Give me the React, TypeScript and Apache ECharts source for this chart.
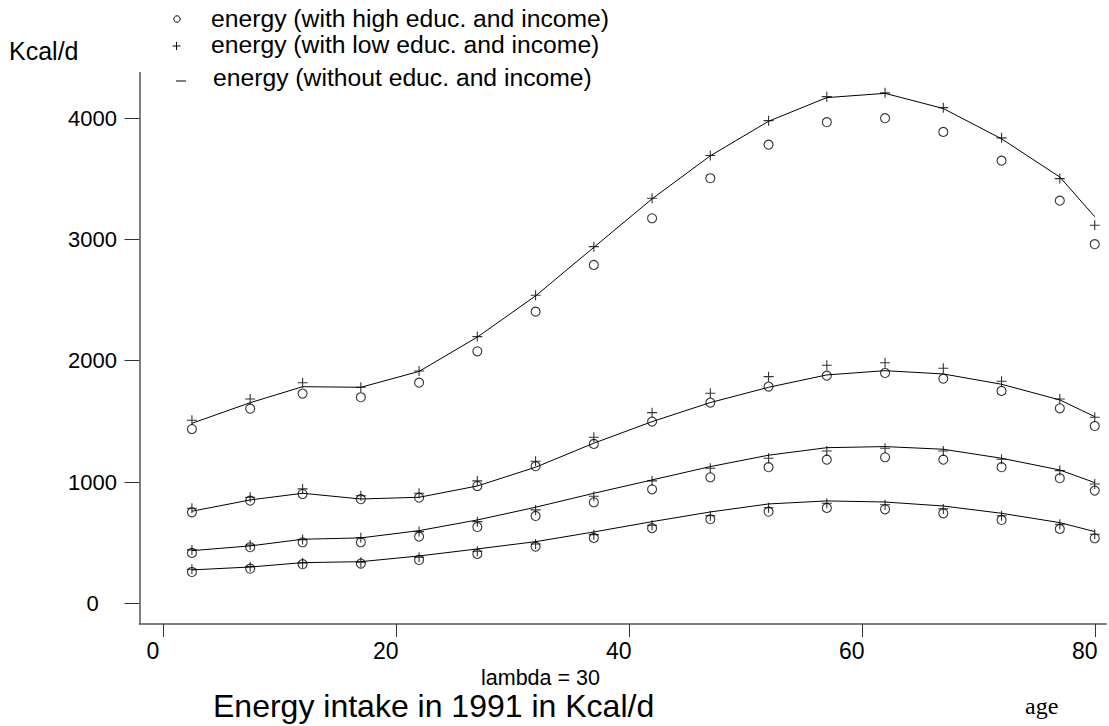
import React, { useEffect, useRef } from "react";
import * as echarts from "echarts";

// ages of the age groups (x)
const ages = [2.5, 7.5, 12, 17, 22, 27, 32, 37, 42, 47, 52, 57, 62, 67, 72, 77, 80];

// group 1 (top curves)
const g1High = [1437, 1605, 1729, 1699, 1819, 2078, 2405, 2790, 3175, 3505, 3782, 3967, 4000, 3887, 3650, 3320, 2961];
const g1Low = [1509, 1685, 1819, 1781, 1915, 2199, 2540, 2941, 3340, 3692, 3980, 4178, 4209, 4087, 3838, 3502, 3117];
const g1Without = [1484, 1654, 1786, 1781, 1912, 2195, 2535, 2935, 3335, 3690, 3975, 4170, 4205, 4080, 3830, 3515, 3188];

// group 2
const g2High = [750, 846, 901, 858, 871, 967, 1130, 1314, 1498, 1655, 1787, 1877, 1899, 1852, 1751, 1608, 1462];
const g2Low = [783, 874, 943, 887, 907, 1009, 1171, 1369, 1572, 1732, 1869, 1963, 1984, 1938, 1831, 1685, 1534];
const g2Without = [759, 852, 907, 860, 874, 967, 1122, 1320, 1498, 1655, 1781, 1883, 1918, 1891, 1806, 1677, 1539];

// group 3
const g3High = [415, 462, 503, 503, 549, 629, 720, 833, 940, 1039, 1122, 1184, 1204, 1184, 1122, 1031, 929];
const g3Low = [440, 481, 525, 541, 591, 673, 770, 883, 1009, 1113, 1196, 1256, 1278, 1256, 1188, 1094, 984];
const g3Without = [434, 473, 528, 539, 599, 687, 792, 907, 1017, 1127, 1221, 1283, 1292, 1270, 1196, 1099, 995];

// group 4 (bottom curves)
const g4High = [258, 285, 322, 327, 357, 407, 467, 539, 619, 693, 755, 786, 775, 742, 687, 613, 536];
const g4Low = [280, 302, 332, 338, 379, 429, 489, 566, 643, 722, 788, 825, 813, 778, 722, 652, 569];
const g4Without = [275, 299, 335, 343, 390, 448, 508, 588, 673, 753, 819, 844, 835, 802, 742, 665, 591];

const xTicks = [0, 20, 40, 60, 80];
const yTicks = [0, 1000, 2000, 3000, 4000];

const legendTexts = [
  "energy (with high educ. and income)",
  "energy (with low educ. and income)",
  "energy (without educ. and income)",
];
const yUnit = "Kcal/d";
const noteText = "lambda = 30";
const titleText = "Energy intake in 1991 in Kcal/d";
const xName = "age";

const FONT = "Liberation Sans, Arial, sans-serif";
const PLUS = "path://M0,5L10,5M5,0L5,10";

function pairs(vals: number[]) {
  return ages.map((a, i) => [a, vals[i]]);
}

export default function App() {
  const ref = useRef<HTMLDivElement>(null);
  useEffect(() => {
    if (!ref.current) return;
    const chart = echarts.init(ref.current, undefined, { renderer: "svg" });
    const groups = [
      [g1High, g1Low, g1Without],
      [g2High, g2Low, g2Without],
      [g3High, g3Low, g3Without],
      [g4High, g4Low, g4Without],
    ];
    const series: any[] = [];
    groups.forEach(([hi, lo, wo], gi) => {
      series.push({
        name: legendTexts[2] + gi,
        type: "line",
        data: pairs(wo),
        symbol: "none",
        lineStyle: { color: "#000", width: 1 },
        z: 2,
      });
      series.push({
        name: legendTexts[1] + gi,
        type: "scatter",
        data: pairs(lo),
        symbol: PLUS,
        symbolSize: 10,
        itemStyle: { color: "transparent", borderColor: "#000", borderWidth: 1.1 },
        z: 3,
      });
      series.push({
        name: legendTexts[0] + gi,
        type: "scatter",
        data: pairs(hi),
        symbol: "circle",
        symbolSize: 9,
        itemStyle: { color: "transparent", borderColor: "#000", borderWidth: 1.1 },
        z: 3,
      });
    });

    const option: any = {
      animation: false,
      backgroundColor: "#fff",
      grid: { left: 139.5, right: 2.6, top: 72.5, bottom: 102, containLabel: false },
      xAxis: {
        type: "value",
        min: -2,
        max: 81,
        splitLine: { show: false },
        axisLine: { show: true, onZero: false, lineStyle: { color: "#555", width: 1.5 } },
        axisTick: { show: true, length: 13, customValues: xTicks, lineStyle: { color: "#333", width: 1 } },
        axisLabel: {
          customValues: xTicks,
          margin: 15,
          fontSize: 23,
          fontFamily: FONT,
          color: "#000",
          padding: [0, 20, 0, 0],
          formatter: (v: number) => String(v),
        },
      },
      yAxis: {
        type: "value",
        min: -171,
        max: 4377,
        splitLine: { show: false },
        axisLine: { show: true, onZero: false, lineStyle: { color: "#555", width: 1.5 } },
        axisTick: { show: true, length: 15, customValues: yTicks, lineStyle: { color: "#333", width: 1 } },
        axisLabel: {
          customValues: yTicks,
          margin: 47,
          align: "center",
          fontSize: 22,
          fontFamily: FONT,
          color: "#000",
          formatter: (v: number) => String(v),
        },
      },
      series,
      graphic: [
        { type: "text", x: 9, y: 51, style: { text: yUnit, font: `25px ${FONT}`, fill: "#000", verticalAlign: "middle" } },
        { type: "circle", shape: { cx: 177, cy: 19, r: 3.2 }, style: { fill: "none", stroke: "#000", lineWidth: 1 } },
        { type: "line", shape: { x1: 172.5, y1: 46, x2: 180.5, y2: 46 }, style: { stroke: "#000", lineWidth: 1 } },
        { type: "line", shape: { x1: 176.5, y1: 42, x2: 176.5, y2: 50 }, style: { stroke: "#000", lineWidth: 1 } },
        { type: "line", shape: { x1: 176, y1: 81, x2: 186, y2: 81 }, style: { stroke: "#000", lineWidth: 1 } },
        { type: "text", x: 211, y: 18, style: { text: legendTexts[0], font: `24.7px ${FONT}`, fill: "#000", verticalAlign: "middle" } },
        { type: "text", x: 211, y: 44, style: { text: legendTexts[1], font: `24.7px ${FONT}`, fill: "#000", verticalAlign: "middle" } },
        { type: "text", x: 213, y: 77, style: { text: legendTexts[2], font: `24.7px ${FONT}`, fill: "#000", verticalAlign: "middle" } },
        { type: "text", x: 481, y: 678, style: { text: noteText, font: `21.5px ${FONT}`, fill: "#000", verticalAlign: "middle" } },
        { type: "text", x: 213, y: 706, style: { text: titleText, font: `32px ${FONT}`, fill: "#000", verticalAlign: "middle" } },
        { type: "text", x: 1025, y: 706, style: { text: xName, font: `24px Liberation Serif, Times New Roman, serif`, fill: "#000", verticalAlign: "middle" } },
      ],
    };
    chart.setOption(option);
    return () => chart.dispose();
  }, []);
  return (
    <div
      ref={ref}
      style={{ position: "fixed", left: 0, top: 0, width: 1109, height: 726, background: "#fff" }}
    />
  );
}
